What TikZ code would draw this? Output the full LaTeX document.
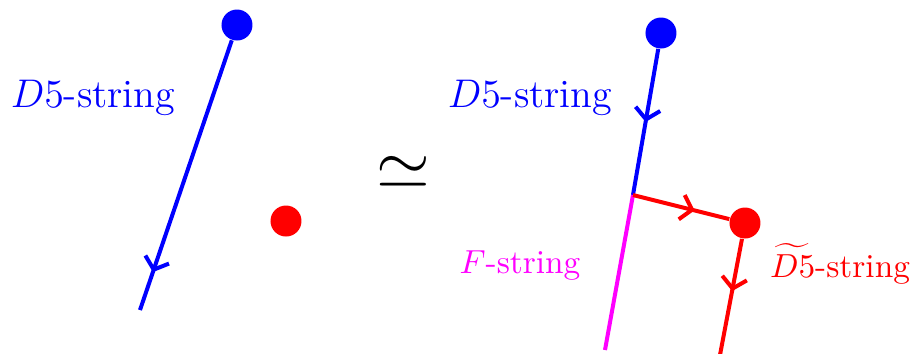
\documentclass[tikz,border=0pt]{standalone}
\usepackage{amsmath}
\usepackage{amssymb}
\usepackage{tikz}
\usetikzlibrary{
    arrows.meta,
    positioning,
    decorations.markings
}

\definecolor{fmagenta}{RGB}{255,0,255}

\begin{document}
\begin{tikzpicture}[
        x=0.3pt,
        y=-0.3pt,
        dot/.style={
            circle,
            inner sep=0pt,
            minimum size=9.3pt
        },
        string/.style={
            line width=1.2pt
        },
        midarrow/.style={
            postaction={decorate},
            decoration={
                markings,
                mark=at position #1 with
                {\arrow{Straight Barb[length=3.2pt, width=7.5pt]}}
            }
        },
        tag/.style={
            inner sep=0pt
        }
    ]

    \useasboundingbox (0,0) rectangle (917,353);

    % left: D5-string ending on a D5-brane, D7 nearby
    \node[dot, fill=blue] (topL) at (237,25) {};
    \node[dot, fill=red] (sevenL) at (286,221) {};
    \coordinate (endL) at (140,310);

    \draw[string, blue, midarrow=0.86]
        (topL) -- (endL);

    \node[tag, blue, font=\large] (dfiveL) at (93,98)
        {$D5$-string};

    % equivalence
    \node (equiv) at (403,172)
        {\huge$\simeq$};

    % right: after crossing
    \node[dot, fill=blue] (topR) at (661,33) {};
    \node[dot, fill=red] (sevenR) at (745,223) {};
    \coordinate (junc) at (633,195);
    \coordinate (endF) at (605,350);
    \coordinate (endR) at (720,355);

    \draw[string, blue, midarrow=0.5]
        (topR) -- (junc);
    \draw[string, fmagenta]
        (junc) -- (endF);
    \draw[string, red, midarrow=0.64]
        (junc) -- (sevenR);
    \draw[string, red, midarrow=0.45]
        (sevenR) -- (endR);

    \node[tag, blue, font=\large] (dfiveR) at (530,98)
        {$D5$-string};
    \node[tag, fmagenta] (fstr) at (520,266)
        {$F$-string};
    \node[tag, red] (dtilde) at (840,264)
        {$\widetilde{D5}$-string};

\end{tikzpicture}
\end{document}
